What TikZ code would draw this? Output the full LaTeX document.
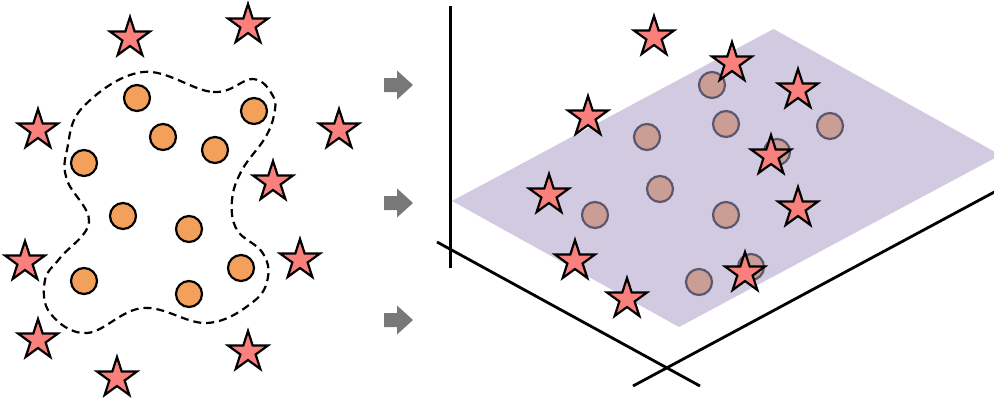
\documentclass[tikz,border=0pt]{standalone}
\usetikzlibrary{shapes.geometric}
\definecolor{dotfill}{RGB}{242,160,90}
\definecolor{starfill}{RGB}{250,128,125}
\definecolor{planefill}{RGB}{172,158,198}
\definecolor{arrowgray}{RGB}{120,120,120}
\tikzset{
  dot/.style={circle, draw=black, fill=dotfill, line width=2.2pt, minimum size=26pt, inner sep=0pt},
  starnode/.style={star, star points=5, star point ratio=2.618, draw=black, fill=starfill,
                   line width=2.2pt, minimum size=42pt, inner sep=0pt, miter limit=6},
  axisline/.style={line width=2.8pt, black},
  blob/.style={dashed, dash pattern=on 8pt off 5pt, line width=2.2pt},
  fatarrow/.style={fill=arrowgray, draw=none},
}
\begin{document}
\begin{tikzpicture}[x=1pt, y=-1pt]
\useasboundingbox (0,0) rectangle (994,399);

% ---------- left panel: points in the input space ----------
\draw[blob] plot[smooth cycle, tension=0.65] coordinates {
  (143,72) (213,92) (253,79) (273,96) (274,115) (265,138) (242,170)
  (232,200) (237,230) (262,252) (268,277) (253,302) (207,323)
  (143,308) (87,333) (50,313) (45,280) (60,258) (89,222)
  (67,180) (67,150) (83,107)};

\foreach \n/\x/\y in {1/137/98, 2/254/111, 3/163/137, 4/215/150, 5/84/163,
                      6/123/216, 7/189/229, 8/241/268, 9/84/281, 10/189/294}
  \node[dot] (lc\n) at (\x,\y) {};

\foreach \n/\x/\y in {1/130/38, 2/248/25, 3/38/130, 4/339/130, 5/273/182,
                      6/25/262, 7/300/260, 8/38/340, 9/248/352, 10/117/378}
  \node[starnode] (ls\n) at (\x,\y) {};

% ---------- mapping arrows ----------
\foreach \n/\c in {1/85, 2/203, 3/320}
  \fill[fatarrow] (384,\c-7) -- (397,\c-7) -- (397,\c-14.5) -- (413,\c)
                  -- (397,\c+14.5) -- (397,\c+7) -- (384,\c+7) -- cycle;

% ---------- right panel: feature space ----------
\coordinate (vtop) at (450.5,6);
\coordinate (vbot) at (450.5,268);
\coordinate (aA) at (437,242);
\coordinate (aB) at (700,386);
\coordinate (bA) at (633,386);
\coordinate (bB) at (1000,189);
\draw[axisline] (vtop) -- (vbot);
\draw[axisline] (aA) -- (aB);
\draw[axisline] (bA) -- (bB);

\foreach \n/\x/\y in {1/712/85, 2/647/137, 3/726/124, 4/830/126, 5/777/152,
                      6/660/189, 7/595/215, 8/726/215, 9/751/267, 10/699/282}
  \node[dot] (rc\n) at (\x,\y) {};

% separating plane, translucent over the inner points
\coordinate (pL) at (452,201);
\coordinate (pT) at (773.5,29);
\coordinate (pR) at (1000.5,155);
\coordinate (pB) at (679,327);
\fill[planefill, fill opacity=0.55] (pL) -- (pT) -- (pR) -- (pB) -- cycle;

\foreach \n/\x/\y in {1/654/37, 2/732/63, 3/798/90, 4/588/117, 5/771/156,
                      6/549/195, 7/798/208, 8/575/261, 9/745/273, 10/627/299}
  \node[starnode] (rs\n) at (\x,\y) {};
\end{tikzpicture}
\end{document}
